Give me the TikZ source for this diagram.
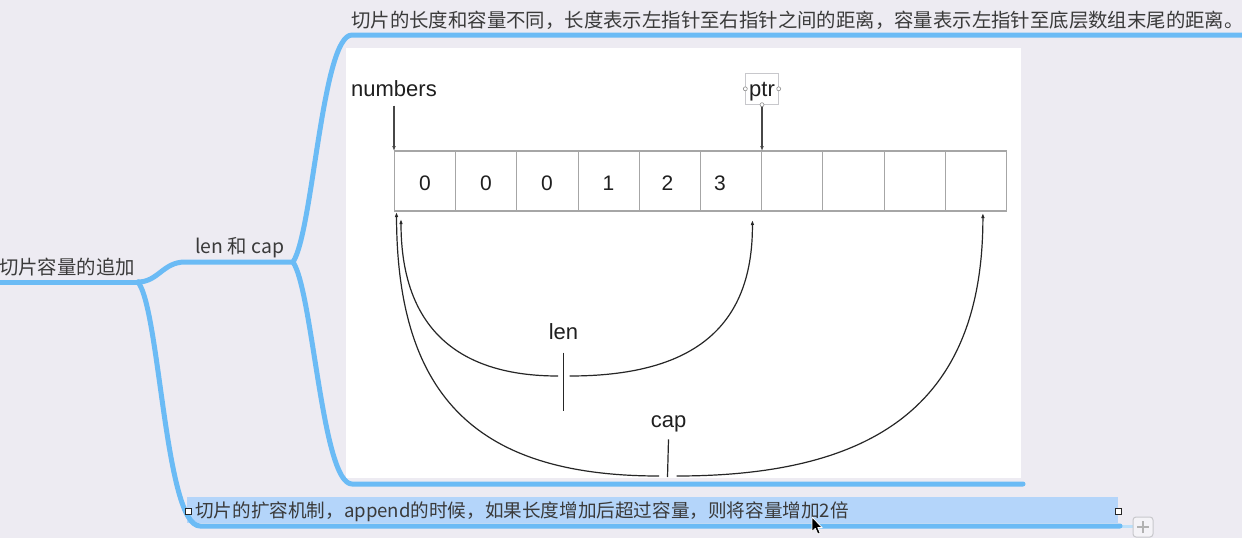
\documentclass[tikz,border=0pt]{standalone}
\usepackage{fontspec}
\setmainfont{Liberation Sans}
\newfontfamily\cjk{Noto Sans CJK SC}
\usetikzlibrary{arrows.meta}
\definecolor{bg}{HTML}{EDEBF2}
\definecolor{mmblue}{HTML}{6BBBF5}
\definecolor{selblue}{HTML}{B4D5FA}
\definecolor{mmtext}{HTML}{3A3A3A}
\definecolor{cellgray}{HTML}{A6A6A6}
\definecolor{boxgray}{HTML}{C8C8CC}
\begin{document}
\begin{tikzpicture}[x=1pt,y=-1pt,
  mm/.style={font=\cjk\fontsize{19.4}{23}\selectfont,text=mmtext,inner sep=0pt,anchor=west},
  lbl/.style={font=\fontsize{22}{26}\selectfont,text=black!88,inner sep=0pt,anchor=base},
  digit/.style={font=\fontsize{21}{25}\selectfont,text=black!88,inner sep=0pt,anchor=base},
  cell/.style={draw=cellgray,line width=1.1pt,fill=white,minimum width=61.2pt,minimum height=60pt,inner sep=0pt,outer sep=0pt},
  branch/.style={draw=mmblue,line width=5pt,line cap=round,line join=round},
  ptrarrow/.style={draw=black!72,line width=1.3pt,-{Latex[length=5pt,width=3.8pt]}},
  curvearrow/.style={draw=black!85,line width=1.2pt,-{Latex[length=5pt,width=3.6pt]}},
  tick/.style={draw=black!85,line width=1.2pt},
  handle/.style={circle,draw=black!45,fill=white,line width=0.6pt,inner sep=0pt,minimum size=4pt},
  sqhandle/.style={rectangle,draw=black!85,fill=white,line width=1pt,inner sep=0pt,minimum size=6pt}
]
\useasboundingbox (0,0) rectangle (1242,538);
\fill[bg] (0,0) rectangle (1242,538);

% image panel
\node[fill=white,minimum width=675pt,minimum height=430pt,anchor=north west,inner sep=0pt] (panel) at (346,48) {};

% selection highlight of bottom node
\node[fill=selblue,minimum width=931pt,minimum height=26pt,anchor=north west,inner sep=0pt] (sel) at (187,497) {};

% mind map branches
\coordinate (rootJ) at (138,282);
\coordinate (lcJ) at (293,262);
\draw[branch] (-6,282) -- (rootJ);
\draw[branch] (rootJ) .. controls (158,282) and (163,262) .. (185,262) -- (lcJ);
\draw[draw=mmblue!45,line width=3pt] (1120,526) -- (1134,526);
\draw[branch] (rootJ) .. controls (160,310) and (165,526) .. (200,526) -- (1120,526);
\draw[branch] (lcJ) .. controls (313,232) and (322,35) .. (352,35) -- (1250,35);
\draw[branch] (lcJ) .. controls (313,292) and (322,484) .. (352,484) -- (1023,484);

% mind map texts
\node[mm] (root) at (-1,267) {切片容量的追加};
\node[mm] (lencap) at (195,248) {len 和 cap};
\node[mm] (top) at (351,20.5) {切片的长度和容量不同，长度表示左指针至右指针之间的距离，容量表示左指针至底层数组末尾的距离。};
\node[mm,font=\cjk\fontsize{18.6}{22}\selectfont] (bottom) at (195,511.5) {切片的扩容机制，append的时候，如果长度增加后超过容量，则将容量增加2倍};
\node[sqhandle] (hl) at (188.5,511.5) {};
\node[sqhandle] (hr) at (1118,511.5) {};

% plus button
\node[draw=boxgray,fill=bg!60!white,rounded corners=3pt,line width=1pt,minimum width=20pt,minimum height=20pt,inner sep=0pt] (plus) at (1143,527) {};
\draw[draw=black!30,line width=1.1pt] ([xshift=-6pt]plus.center) -- ([xshift=6pt]plus.center);
\draw[draw=black!30,line width=1.1pt] ([yshift=-6pt]plus.center) -- ([yshift=6pt]plus.center);

% array cells
\foreach \i in {0,...,9} {
  \node[cell] (c\i) at ({425.1+61.2*\i},181) {};
}
\node[digit] (d0) at (425,190) {0};
\node[digit] (d1) at (486,190) {0};
\node[digit] (d2) at (547,190) {0};
\node[digit] (d3) at (608.5,190) {1};
\node[digit] (d4) at (667.5,190) {2};
\node[digit] (d5) at (720,190) {3};

% pointers
\node[lbl] (numbers) at (394,96.7) {numbers};
\draw[ptrarrow] ([yshift=-8.5pt]numbers.south) -- (numbers.south |- c0.north);
\node[draw=boxgray,line width=0.8pt,minimum width=32.6pt,minimum height=31pt,inner sep=0pt] (ptrbox) at (762,88.8) {};
\node[lbl] (ptr) at (762,96.7) {ptr};
\draw[ptrarrow] (ptrbox.south) -- (ptrbox.south |- c6.north);
\node[handle] at (ptrbox.west) {};
\node[handle] at (ptrbox.east) {};
\node[handle] at (ptrbox.south) {};

% len bracket
\node[lbl] (len) at (563.5,339.3) {len};
\coordinate (lenA) at (558,376);
\coordinate (lenB) at (569.5,376);
\coordinate (lenT) at (563.5,411);
\draw[tick] ([yshift=-13pt]len.south) -- (lenT);
\draw[curvearrow] (lenA) .. controls (460,376) and (401,330) .. ([xshift=6.5pt,yshift=-8pt]c0.south west);
\draw[curvearrow] (lenB) .. controls (690,376) and (753,330) .. ([xshift=-9.3pt,yshift=-9pt]c5.south east);

% cap bracket
\node[lbl] (cap) at (668.5,427.7) {cap};
\coordinate (capA) at (659,476);
\coordinate (capB) at (676.5,476);
\coordinate (capT) at (667.5,477);
\draw[tick] ([yshift=-7pt]cap.south) -- (capT);
\draw[curvearrow] (capA) .. controls (480,476) and (397,400) .. ([xshift=2pt,yshift=-1pt]c0.south west);
\draw[curvearrow] (capB) .. controls (880,476) and (983,400) .. ([xshift=7pt,yshift=-2pt]c9.south);

% mouse cursor
\draw[fill=black,draw=white,line width=0.8pt,line join=round]
  (812,517) -- (812,531.5) -- (815.3,528.4) -- (817.8,534) -- (820.2,533) -- (817.8,527.6) -- (822.2,527.6) -- cycle;
\end{tikzpicture}
\end{document}
